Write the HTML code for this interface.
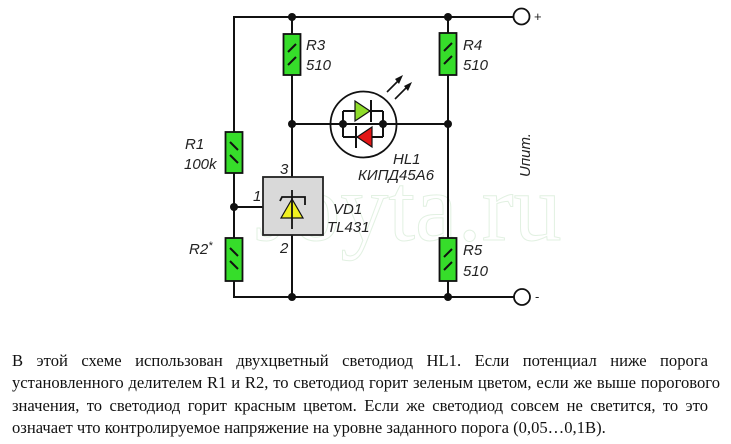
<!DOCTYPE html>
<html>
<head>
<meta charset="utf-8">
<style>
html,body{margin:0;padding:0;background:#fff;}
body{width:731px;height:444px;position:relative;overflow:hidden;}
svg{position:absolute;left:0;top:0;}
.txt{position:absolute;left:12px;top:350px;width:696px;font-family:"Liberation Serif","Noto Serif CJK SC",serif;font-size:16.6px;line-height:22.3px;color:#111;}
.j{text-align:justify;text-align-last:justify;white-space:nowrap;}
.w{width:708px;}
.l{text-align:left;white-space:nowrap;}
</style>
</head>
<body>
<svg width="731" height="444" viewBox="0 0 731 444" xmlns="http://www.w3.org/2000/svg">
  <text x="255" y="240" font-family="Liberation Serif, serif" font-size="96" fill="none" stroke="#e2f1e2" stroke-width="1">Joyta.ru</text>

  <g stroke="#111" stroke-width="2" fill="none">
    <line x1="233" y1="17" x2="513" y2="17"/>
    <line x1="233" y1="297" x2="514" y2="297"/>
    <line x1="234" y1="16" x2="234" y2="298"/>
    <line x1="234" y1="207" x2="263" y2="207"/>
    <line x1="292" y1="17" x2="292" y2="177"/>
    <line x1="292" y1="235" x2="292" y2="297"/>
    <line x1="448" y1="17" x2="448" y2="297"/>
    <line x1="292" y1="124" x2="448" y2="124"/>
    <line x1="343" y1="111" x2="343" y2="137"/>
    <line x1="383" y1="111" x2="383" y2="137"/>
    <line x1="343" y1="111" x2="383" y2="111"/>
    <line x1="343" y1="137" x2="383" y2="137"/>
  </g>
  <circle cx="363.5" cy="124.5" r="33" fill="none" stroke="#111" stroke-width="1.8"/>
  <polygon points="355,101 355,121 370,111" fill="#8fdc2a" stroke="#111" stroke-width="1.2"/>
  <line x1="371" y1="100" x2="371" y2="122" stroke="#111" stroke-width="2"/>
  <polygon points="372,127 372,147 357,137" fill="#e31515" stroke="#111" stroke-width="1.2"/>
  <line x1="356" y1="126" x2="356" y2="148" stroke="#111" stroke-width="2"/>
  <g stroke="#111" stroke-width="1.6">
    <line x1="387" y1="92" x2="399" y2="80"/>
    <line x1="395" y1="99" x2="408" y2="86"/>
  </g>
  <polygon points="403,75 395,79 399,84" fill="#111"/>
  <polygon points="412,82 404,86 408,91" fill="#111"/>

  <g fill="#36dd2a" stroke="#111" stroke-width="1.8">
    <rect x="283.5" y="34" width="17" height="41"/>
    <rect x="439.5" y="33" width="17" height="42"/>
    <rect x="439.5" y="238" width="17" height="43"/>
    <rect x="225.5" y="132" width="17" height="41"/>
    <rect x="225.5" y="238" width="17" height="43"/>
  </g>
  <g stroke="#111" stroke-width="2">
    <line x1="288" y1="52" x2="296" y2="44"/>
    <line x1="288" y1="65" x2="296" y2="57"/>
    <line x1="444" y1="51" x2="452" y2="43"/>
    <line x1="444" y1="64" x2="452" y2="56"/>
    <line x1="444" y1="257" x2="452" y2="249"/>
    <line x1="444" y1="270" x2="452" y2="262"/>
    <line x1="230" y1="142" x2="238" y2="150"/>
    <line x1="230" y1="155" x2="238" y2="163"/>
    <line x1="230" y1="248" x2="238" y2="256"/>
    <line x1="230" y1="261" x2="238" y2="269"/>
  </g>

  <rect x="263" y="177" width="60" height="58" fill="#d9d9d9" stroke="#222" stroke-width="1.8"/>
  <polygon points="292,199 281,218 303,218" fill="#f0f020" stroke="#111" stroke-width="1.2"/>
  <g stroke="#111" stroke-width="1.8" fill="none">
    <line x1="292" y1="190" x2="292" y2="229"/>
    <polyline points="280,201 282,197 305,197 305,205"/>
  </g>

  <g fill="#111">
    <circle cx="292" cy="17" r="4"/>
    <circle cx="448" cy="17" r="4"/>
    <circle cx="292" cy="124" r="4"/>
    <circle cx="448" cy="124" r="4"/>
    <circle cx="343" cy="124" r="4"/>
    <circle cx="383" cy="124" r="4"/>
    <circle cx="234" cy="207" r="4"/>
    <circle cx="292" cy="297" r="4"/>
    <circle cx="448" cy="297" r="4"/>
  </g>

  <circle cx="521.5" cy="16.5" r="8" fill="#fff" stroke="#111" stroke-width="1.8"/>
  <circle cx="522" cy="297" r="8" fill="#fff" stroke="#111" stroke-width="1.8"/>
  <g font-family="Liberation Sans, sans-serif" font-size="13" fill="#222">
    <text x="534" y="21">+</text>
    <text x="535" y="301">-</text>
  </g>

  <g font-family="Liberation Sans, sans-serif" font-style="italic" font-size="15" fill="#222">
    <text x="306" y="50">R3</text>
    <text x="306" y="70">510</text>
    <text x="463" y="50">R4</text>
    <text x="463" y="70">510</text>
    <text x="463" y="255">R5</text>
    <text x="463" y="276">510</text>
    <text x="185" y="149">R1</text>
    <text x="184" y="169">100k</text>
    <text x="189" y="254">R2<tspan font-size="11" dy="-5">*</tspan></text>
    <text x="280" y="174">3</text>
    <text x="253" y="201">1</text>
    <text x="280" y="253">2</text>
    <text x="333" y="214">VD1</text>
    <text x="327" y="232">TL431</text>
    <text x="393" y="164">HL1</text>
    <text x="358" y="180">КИПД45А6</text>
    <text transform="translate(530,155) rotate(-90)" text-anchor="middle">Uпит.</text>
  </g>
</svg>

<div class="txt">
  <div class="j">В этой схеме использован двухцветный светодиод HL1. Если потенциал ниже порога</div>
  <div class="j w">установленного делителем R1 и R2, то светодиод горит зеленым цветом, если же выше порогового</div>
  <div class="j">значения, то светодиод горит красным цветом. Если же светодиод совсем не светится, то это</div>
  <div class="l">означает что контролируемое напряжение на уровне заданного порога (0,05…0,1В).</div>
</div>
</body>
</html>
